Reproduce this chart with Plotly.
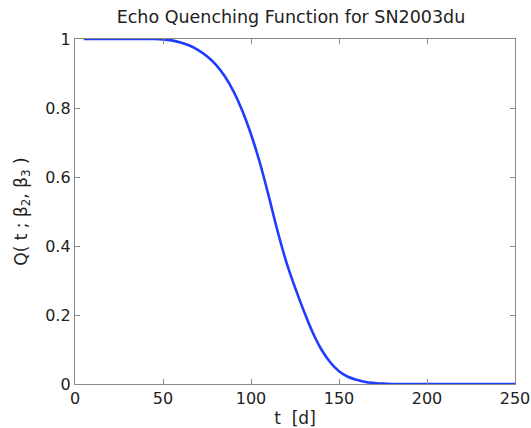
import plotly.graph_objects as go

t_days = [5, 15, 25, 35, 45, 50, 55, 60, 65, 70, 75, 80, 85, 90, 95, 100, 105, 110, 115,
          120, 125, 130, 135, 140, 145, 150, 155, 160, 165, 170, 175, 180, 200, 225, 250]
q_vals = [1.0, 1.0, 1.0, 1.0, 1.0, 0.999, 0.996, 0.990, 0.981, 0.968, 0.950, 0.926, 0.893,
          0.849, 0.793, 0.724, 0.642, 0.546, 0.445, 0.355, 0.280, 0.212, 0.150, 0.100,
          0.063, 0.037, 0.021, 0.012, 0.006, 0.003, 0.001, 0.0, 0.0, 0.0, 0.0]

x_ticks = [0, 50, 100, 150, 200, 250]
y_ticks = [0, 0.2, 0.4, 0.6, 0.8, 1]
y_tick_text = ["0", "0.2", "0.4", "0.6", "0.8", "1"]

font_family = "DejaVu Sans, Liberation Sans, Arial, sans-serif"
text_color = "#222222"

fig = go.Figure()
fig.add_trace(go.Scatter(x=t_days, y=q_vals, mode="lines",
                         line=dict(color="#1f3cff", width=2.6, shape="spline", smoothing=1.0),
                         showlegend=False, hoverinfo="skip"))

axis_common = dict(showline=True, linecolor="#8a8a8a", linewidth=1.3, mirror="ticks",
                   ticks="inside", ticklen=5, tickcolor="#8a8a8a", tickwidth=1,
                   showgrid=False, zeroline=False, automargin=False,
                   tickfont=dict(family=font_family, size=16, color=text_color))

fig.update_xaxes(range=[0, 250], tickvals=x_ticks, **axis_common,
                 title=dict(text="t  [d]", font=dict(family=font_family, size=17, color=text_color),
                            standoff=4))
fig.update_yaxes(range=[0, 1], tickvals=y_ticks, ticktext=y_tick_text, **axis_common)

fig.add_annotation(text="Q( t ; β<sub>2</sub>, β<sub>3</sub> )", textangle=-90,
                   xref="paper", yref="paper", x=-0.12, y=0.5,
                   xanchor="center", yanchor="middle", showarrow=False,
                   font=dict(family=font_family, size=17, color=text_color))

fig.update_layout(
    template="none",
    width=531, height=428,
    margin=dict(l=75, r=16, t=39, b=44, autoexpand=False),
    paper_bgcolor="white", plot_bgcolor="white",
    title=dict(text="Echo Quenching Function for SN2003du", x=0.548, xanchor="center",
               xref="container", y=0.976, yanchor="top", yref="container", automargin=False,
               font=dict(family=font_family, size=17.5, color=text_color)),
)

fig.write_html("out.html", config={"displayModeBar": False},
               post_script="document.body.style.margin='0';document.body.style.overflow='hidden';")
